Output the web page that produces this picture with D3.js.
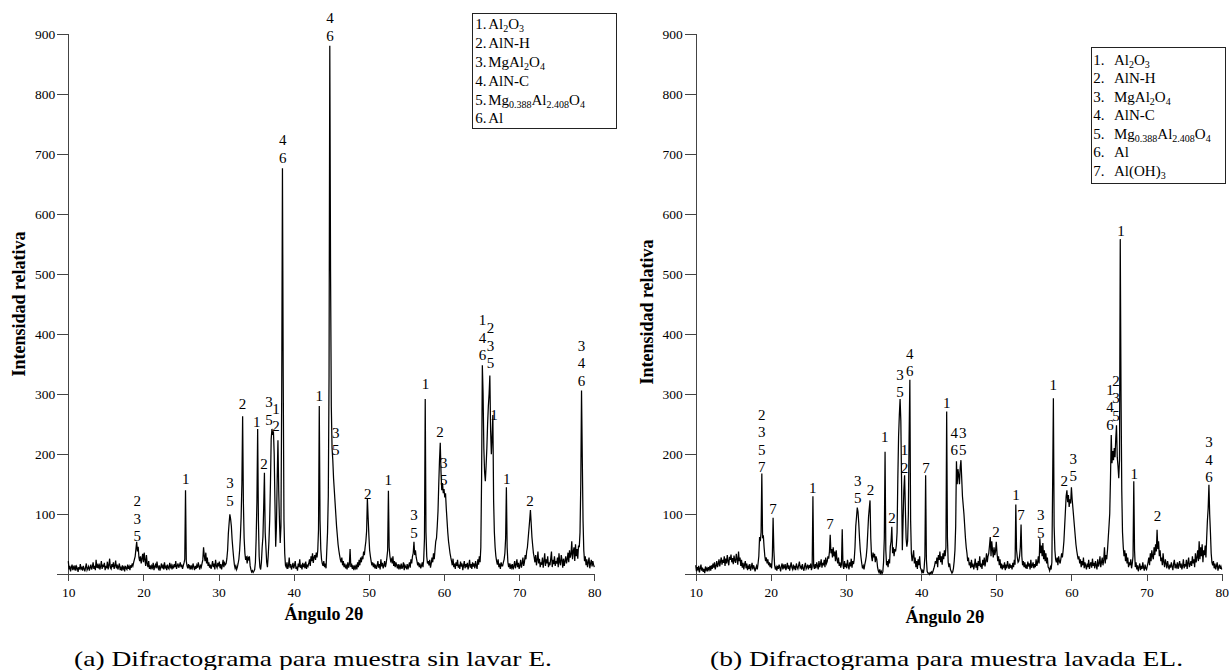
<!DOCTYPE html>
<meta charset="utf-8">
<style>
body{margin:0;background:#fff;}
svg{display:block;}
text{font-family:"Liberation Serif","Times New Roman",serif;fill:#000;}
.axis path,.axis line{stroke:#444;shape-rendering:crispEdges;}
.axis text{font-size:13.5px;}
.title{font-size:18px;font-weight:bold;}
.peak{font-size:15px;text-anchor:middle;}
.legend text{font-size:15px;}
.legend rect{fill:#fff;stroke:#222;stroke-width:1;shape-rendering:crispEdges;}
.caption{font-size:21px;}
.trace{fill:none;stroke:#000;stroke-width:1.25;stroke-linejoin:miter;}
</style>
<body>
<script src="https://cdn.jsdelivr.net/npm/d3@7"></script>
<script>
// barrido 2θ: de 10 a 80 grados, paso 0.1 (una fila por grado)
var angleStart = 10, angleStep = 0.1;
var xTicks = [10,20,30,40,50,60,70,80];
var yTicks = [0,100,200,300,400,500,600,700,800,900];

// muestra sin lavar E
var rowsE = [
 [22,8,14,5,11,16,7,12,9,15],
 [6,13,10,4,12,8,17,9,11,6],
 [14,9,5,12,18,7,10,13,6,11],
 [16,8,12,20,9,14,7,24,11,15],
 [10,18,8,13,22,9,16,12,19,7],
 [14,10,21,8,15,26,11,9,17,12],
 [20,9,14,23,10,16,8,13,18,7],
 [11,6,15,9,12,5,14,10,8,16],
 [9,13,7,15,11,18,14,20,25,30],
 [42,54,38,46,28,22,30,18,26,34],
 [20,36,24,14,32,18,12,22,9,15],
 [8,14,11,19,7,13,16,10,21,12],
 [9,15,6,12,18,10,14,8,20,11],
 [13,7,16,11,9,19,12,15,8,14],
 [10,17,12,22,9,14,18,11,15,20],
 [12,16,9,14,19,25,140,22,14,10],
 [17,11,15,8,13,10,18,12,7,14],
 [9,15,11,20,13,8,16,12,18,24],
 [45,30,22,36,18,28,14,20,11,16],
 [9,15,22,12,18,8,24,14,11,19],
 [13,21,10,17,8,15,24,12,19,16],
 [18,26,40,68,85,100,92,80,58,42],
 [28,16,10,14,8,12,18,25,40,62],
 [95,150,263,120,60,35,24,30,18,28],
 [25,30,14,8,4,6,3,5,8,20],
 [60,120,242,90,30,12,8,20,45,62],
 [110,169,70,45,20,12,30,55,90,150],
 [225,242,232,238,200,120,46,80,160,223],
 [140,90,52,80,300,676,330,90,35,15],
 [12,20,9,14,28,11,17,8,13,19],
 [10,15,22,9,13,6,18,12,25,11],
 [14,8,19,12,16,10,21,9,15,13],
 [18,25,14,30,22,35,19,28,32,24],
 [36,28,40,75,280,90,42,25,18,14],
 [22,12,18,10,40,70,130,330,880,506],
 [280,210,190,160,140,120,100,80,65,50],
 [40,32,25,20,28,15,22,12,18,10],
 [14,8,20,11,16,42,12,18,9,15],
 [7,13,10,16,8,20,12,24,15,28],
 [20,30,25,38,32,45,55,72,126,95],
 [65,40,30,22,15,20,12,18,10,16],
 [9,14,22,11,17,8,25,13,19,10],
 [15,22,12,18,28,40,139,45,30,22],
 [25,18,30,14,22,12,20,15,10,17],
 [8,14,11,18,9,13,20,7,15,12],
 [10,17,8,14,20,11,25,18,30,35],
 [54,32,40,28,22,15,20,12,18,10],
 [14,20,12,25,60,292,70,30,18,22],
 [15,24,11,18,28,20,35,25,40,55],
 [60,80,105,150,190,219,170,140,152,135],
 [142,128,135,110,90,70,55,45,35,28],
 [22,15,26,12,18,9,20,14,24,11],
 [16,9,21,13,18,7,15,22,10,17],
 [12,19,8,15,24,11,17,9,20,13],
 [18,10,22,14,9,25,16,30,20,45],
 [160,348,300,210,170,155,180,210,250,280],
 [300,331,240,200,230,265,123,70,45,30],
 [22,16,25,12,18,9,20,14,14,20],
 [25,35,60,145,45,20,12,18,9,15],
 [11,17,8,14,22,10,16,25,12,19],
 [9,15,24,11,18,28,14,20,32,25],
 [38,45,60,75,90,107,85,62,48,35],
 [28,20,32,15,24,38,18,26,12,20],
 [16,28,11,22,35,14,25,18,30,12],
 [20,15,26,38,12,24,17,30,14,22],
 [18,28,12,35,20,15,32,24,11,26],
 [14,22,30,18,25,36,20,40,28,33],
 [55,25,38,45,22,50,30,42,26,48],
 [45,70,150,306,195,90,40,22,30,15],
 [25,12,20,28,10,18,24,13,22,16],
 [12]
];

// muestra lavada EL
var rowsEL = [
 [15,5,12,8,14,3,10,16,6,11],
 [4,9,2,13,7,10,5,12,8,14],
 [6,15,9,18,11,20,8,14,22,12],
 [17,25,13,21,28,16,24,19,30,14],
 [26,18,32,22,15,29,24,33,20,27],
 [17,31,23,19,34,25,16,38,22,28],
 [14,24,11,19,8,16,22,10,18,7],
 [13,9,17,6,12,19,8,15,11,5],
 [10,14,8,18,30,62,55,70,168,60],
 [65,45,30,22,28,18,25,15,20,12],
 [18,10,30,94,40,15,8,12,6,14],
 [9,16,11,5,13,18,8,14,10,17],
 [7,12,19,9,15,6,13,20,11,8],
 [16,10,14,7,18,12,9,15,21,11],
 [13,8,17,10,6,14,19,9,12,16],
 [8,15,11,18,7,12,130,14,9,17],
 [10,20,14,8,22,12,17,25,11,19],
 [15,24,12,28,18,21,30,26,38,66],
 [35,42,28,45,30,38,22,40,25,18],
 [28,14,20,11,17,75,15,9,22,12],
 [18,10,24,15,8,20,13,26,11,22],
 [17,25,45,80,95,111,104,85,60,40],
 [28,18,10,14,8,16,22,30,45,70],
 [95,110,123,60,30,22,36,28,34,20],
 [30,25,12,6,3,8,2,5,1,4],
 [20,60,204,40,15,22,12,25,18,46],
 [55,79,35,45,30,42,38,48,70,160],
 [230,265,292,255,150,40,90,140,165,110],
 [60,46,55,100,230,324,90,35,22,30],
 [40,18,28,12,22,9,25,15,30,11],
 [8,3,6,2,10,30,165,25,5,2],
 [2,0,3,1,4,2,6,10,15,22],
 [18,28,12,32,24,38,20,30,16,35],
 [25,40,30,45,271,60,20,12,18,8],
 [5,2,4,10,22,40,80,188,150,175],
 [165,150,178,190,160,130,115,100,80,60],
 [45,35,22,28,15,20,10,24,12,18],
 [8,15,26,11,19,7,22,14,30,12],
 [18,9,24,15,28,13,22,35,20,30],
 [35,48,62,30,55,40,28,45,32,38],
 [54,35,22,30,15,25,10,18,8,14],
 [12,20,7,16,10,22,14,9,18,11],
 [15,8,19,12,24,16,116,40,28,20],
 [22,30,45,83,30,15,22,12,20,10],
 [16,9,21,13,18,8,24,11,15,20],
 [10,17,12,25,14,20,30,18,60,35],
 [48,30,52,25,40,22,35,18,28,12],
 [10,6,12,8,20,150,293,80,40,25],
 [20,28,15,30,22,18,26,35,28,40],
 [55,80,105,130,140,120,132,112,125,118],
 [145,125,110,95,80,65,50,40,32,25],
 [30,18,25,12,22,15,28,10,20,14],
 [8,18,12,24,9,16,20,11,26,14],
 [19,10,22,15,8,25,13,18,30,12],
 [20,28,15,24,45,18,32,25,40,60],
 [80,101,160,232,185,205,190,210,195,225],
 [248,195,180,160,190,558,305,140,70,45],
 [30,40,22,35,18,28,12,20,15,25],
 [10,18,30,155,40,12,20,8,15,5],
 [12,18,7,14,9,20,11,6,16,10],
 [8,14,20,28,15,35,22,40,30,25],
 [45,32,50,38,74,42,55,30,40,22],
 [28,15,35,20,12,25,18,10,22,14],
 [8,16,11,20,13,7,18,24,10,15],
 [12,20,9,16,22,11,18,8,14,25],
 [10,17,13,24,9,19,28,12,16,22],
 [14,30,18,25,12,35,20,28,40,22],
 [55,25,45,30,50,20,40,32,48,28],
 [60,90,110,149,100,70,35,20,15,22],
 [10,18,8,14,20,6,12,16,9,13],
 [8]
];

// etiquetas de picos: [ángulo, intensidad de la última línea, fases]
var peaksE = [
 [19.19,55,"2 3 5"],[25.62,150,"1"],[31.52,114,"3 5"],[33.18,276,"2"],
 [35.07,246,"1"],[36.05,176,"2"],[36.72,249,"3 5"],[37.63,238,"1 2"],
 [38.53,685,"4 6"],[43.41,289,"1"],[44.83,888,"4 6"],[45.59,198,"3 5"],
 [49.85,126,"2"],[52.59,149,"1"],[56.0,61,"3 5"],[57.55,308,"1"],
 [59.48,228,"2"],[59.95,148,"3 5"],[65.11,356,"1 4 6"],[66.2,343,"2 3 5"],
 [66.64,257,"1"],[68.34,150,"1"],[71.45,114,"2"],[78.28,314,"3 4 6"]
];
var peaksEL = [
 [18.78,170,"2 3 5 7"],[20.28,100,"7"],[25.57,136,"1"],[27.87,75,"7"],
 [31.56,118,"3 5"],[33.25,132,"2"],[35.17,220,"1"],[36.11,86,"2"],
 [37.19,295,"3 5"],[37.78,169,"1 2"],[38.49,330,"4 6"],[40.65,169,"7"],
 [43.4,277,"1"],[44.42,198,"4 6"],[45.53,198,"3 5"],[49.97,62,"2"],
 [52.63,123,"1"],[53.3,91,"7"],[55.93,61,"3 5"],[57.59,306,"1"],
 [59.06,147,"2"],[60.26,155,"3 5"],[65.14,241,"1 4 6"],[65.94,256,"2 3 5"],
 [66.6,563,"1"],[68.35,159,"1"],[71.44,88,"2"],[78.32,153,"3 4 6"]
];

// fases (entre llaves = subíndice)
var phasesE = ["Al{2}O{3}","AlN-H","MgAl{2}O{4}","AlN-C","Mg{0.388}Al{2.408}O{4}","Al"];
var phasesEL = ["Al{2}O{3}","AlN-H","MgAl{2}O{4}","AlN-C","Mg{0.388}Al{2.408}O{4}","Al","Al(OH){3}"];

var svg = d3.select("body").append("svg").attr("width",1231).attr("height",670);

var charts = [
 {rows:rowsE, peaks:peaksE, phases:phasesE, x0:68.3, x1:594.3,
  box:{x:472.7,y:13.3,w:143.3,h:115,first:16,step:18.8,num:2.5,name:15.5},
  yTitle:[25,304], xTitle:[324,620],
  caption:{x:74,len:478,text:"(a) Difractograma para muestra sin lavar E."}},
 {rows:rowsEL, peaks:peaksEL, phases:phasesEL, x0:695.7, x1:1221.7,
  box:{x:1091,y:47.7,w:134,h:135.6,first:17.3,step:18.45,num:2.3,name:23},
  yTitle:[653,312], xTitle:[945,623],
  caption:{x:710,len:473,text:"(b) Difractograma para muestra lavada EL."}}
];

function addFormula(t, s){
  var sub = false;
  s.split(/(\{[^}]*\})/).filter(p=>p).forEach(function(p){
    if(p[0]=="{"){
      t.append("tspan").attr("font-size","10px").attr("dy",3).text(p.slice(1,-1));
      sub = true;
    } else {
      t.append("tspan").attr("dy",sub?-3:0).text(p);
      sub = false;
    }
  });
}

var y = d3.scaleLinear().domain([0,900]).range([574.3,33.7]);

charts.forEach(function(c){
  var x = d3.scaleLinear().domain([10,80]).range([c.x0,c.x1]);
  var pts = d3.merge(c.rows).map((v,i)=>[angleStart+i*angleStep, v]);

  var g = svg.append("g");

  g.append("g").attr("class","axis")
    .attr("transform","translate("+c.x0+",0)")
    .call(d3.axisLeft(y).tickValues(yTicks).tickSize(11).tickSizeOuter(0)
      .tickPadding(2).tickFormat(d=>d?d:""));
  g.append("g").attr("class","axis")
    .attr("transform","translate(0,"+y(0)+")")
    .call(d3.axisBottom(x).tickValues(xTicks).tickSize(7).tickSizeOuter(0).tickPadding(6));

  g.append("path").attr("class","trace").datum(pts)
    .attr("d", d3.line().x(d=>x(d[0])).y(d=>y(d[1])));

  // etiquetas de fase sobre los picos
  c.peaks.forEach(function(p){
    var lines = p[2].split(" ");
    var t = g.append("text").attr("class","peak");
    lines.forEach(function(l,i){
      t.append("tspan").attr("x",x(p[0]))
        .attr("y",y(p[1]) - (lines.length-1-i)*17.5).text(l);
    });
  });

  // leyenda
  var b = c.box;
  var lg = g.append("g").attr("class","legend");
  lg.append("rect").attr("x",b.x).attr("y",b.y).attr("width",b.w).attr("height",b.h);
  c.phases.forEach(function(ph,i){
    var yy = b.y + b.first + i*b.step;
    lg.append("text").attr("x",b.x+b.num).attr("y",yy).text((i+1)+".");
    addFormula(lg.append("text").attr("x",b.x+b.name).attr("y",yy), ph);
  });

  g.append("text").attr("class","title")
    .attr("transform","translate("+c.yTitle[0]+","+c.yTitle[1]+") rotate(-90)")
    .attr("text-anchor","middle").text("Intensidad relativa");
  g.append("text").attr("class","title")
    .attr("x",c.xTitle[0]).attr("y",c.xTitle[1])
    .attr("text-anchor","middle").text("Ángulo 2θ");

  g.append("text").attr("class","caption")
    .attr("x",c.caption.x).attr("y",666)
    .attr("textLength",c.caption.len).attr("lengthAdjust","spacingAndGlyphs")
    .text(c.caption.text);
});
</script>
</body>
